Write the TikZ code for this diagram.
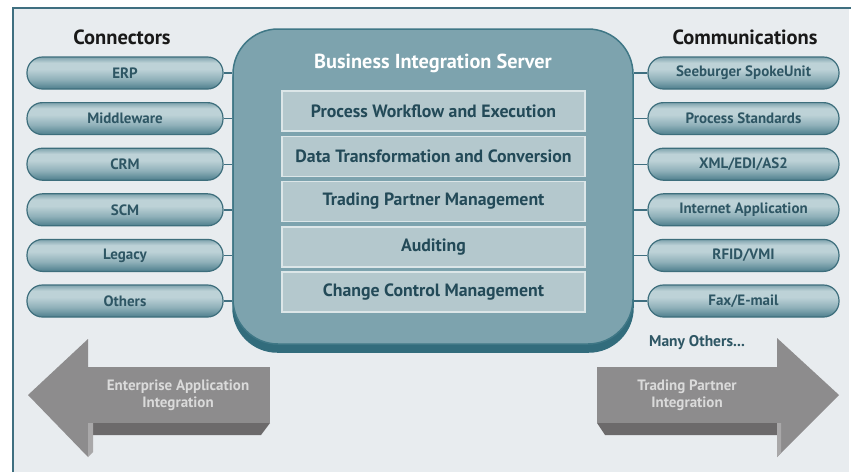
\documentclass[tikz,border=0pt]{standalone}
\usepackage{fontspec}
\setmainfont{PT Sans}
\pgfdeclarelayer{base}
\pgfdeclarelayer{mid}
\pgfsetlayers{base,mid,main}

\definecolor{pagebg}{HTML}{E8ECEF}
\definecolor{frameline}{HTML}{3F6F80}
\definecolor{pillband}{HTML}{7FA3AD}
\definecolor{pilllight}{HTML}{BDD2D7}
\definecolor{pillmid}{HTML}{8FB0B9}
\definecolor{pillbot}{HTML}{4E7F8D}
\definecolor{pilledge}{HTML}{3D6E7C}
\definecolor{pilltext}{HTML}{2E5664}
\definecolor{srvfill}{HTML}{7DA3AE}
\definecolor{srvedge}{HTML}{3F7786}
\definecolor{srvshadow}{HTML}{326C7C}
\definecolor{boxfill}{HTML}{B4C8CD}
\definecolor{boxedge}{HTML}{DCE6E8}
\definecolor{boxtext}{HTML}{234A58}
\definecolor{arrface}{HTML}{8D8C8D}
\definecolor{arrdark}{HTML}{6C6A6B}
\definecolor{arrlight}{HTML}{A9A8A9}
\definecolor{arrtext}{HTML}{DADADA}

% tube-like vertical shading for the pills (path spans 25bp..75bp)
\pgfdeclareverticalshading{tube}{100bp}{%
  color(0bp)=(pillbot); color(25bp)=(pillbot); color(40bp)=(pillmid);
  color(56bp)=(pilllight); color(66bp)=(pilllight); color(75bp)=(pillband);
  color(100bp)=(pillband)}

\begin{document}
\begin{tikzpicture}[x=1pt,y=-1pt,
  pill/.style={draw=pilledge, line width=1.2pt, rounded corners=15.5pt,
    minimum height=32pt, inner sep=0pt, shading=tube,
    font=\bfseries\fontsize{15}{17}\selectfont, text=pilltext},
  lpill/.style={pill, minimum width=196pt},
  rpill/.style={pill, minimum width=191pt},
  layer/.style={draw=boxedge, line width=1.5pt, fill=boxfill,
    minimum width=303pt, minimum height=40pt, inner sep=0pt,
    font=\bfseries\fontsize{17.8}{20}\selectfont, text=boxtext},
  server/.style={draw=srvedge, line width=1.5pt, fill=srvfill,
    rounded corners=45pt, minimum width=400pt, minimum height=315pt, inner sep=0pt},
  link/.style={draw=frameline, line width=1.4pt},
  heading/.style={font=\bfseries\fontsize{20.5}{23}\selectfont, text=black!90},
  arrlabel/.style={font=\bfseries\fontsize{15}{16.5}\selectfont, text=arrtext, align=center}
]
\useasboundingbox (0,0) rectangle (851,472);

% page panel with its frame on the left and top
\begin{pgfonlayer}{base}
  \fill[pagebg] (13,8) rectangle (849,472);
  \draw[frameline, line width=2pt] (13,472) -- (13,8) -- (851,8);
\end{pgfonlayer}

% central server block with its dark lower rim
\node[server] (server) at (433,186.5) {};
\begin{pgfonlayer}{mid}
  \fill[srvshadow, rounded corners=45pt]
    ([yshift=-8pt]server.north west) rectangle ([yshift=-8pt]server.south east);
\end{pgfonlayer}
\node[font=\bfseries\fontsize{20.3}{23}\selectfont, text=white] (title) at (433,63)
  {Business Integration Server};

\foreach \n/\t [count=\i] in {pwe/Process Workflow and Execution,
    dtc/Data Transformation and Conversion,
    tpm/Trading Partner Management,
    aud/Auditing,
    ccm/Change Control Management}
  \node[layer] (\n) at (433.5,{111+45.25*(\i-1)}) {\t};

% headings
\node[heading] (conn) at (122,37) {Connectors};
\node[heading] (comm) at (745,37) {Communications};

% connector pills on the left
\foreach \n/\t [count=\i] in {erp/ERP, midw/Middleware, crm/CRM, scm/SCM, leg/Legacy, oth/Others}
{
  \node[lpill] (\n) at (125,{73+45.6*(\i-1)}) {\t};
  \draw[link] (\n.east) -- (\n.east -| server.west);
}

% communication pills on the right
\foreach \n/\t [count=\i] in {spoke/{Seeburger SpokeUnit}, pstd/{Process Standards},
    xml/{XML/EDI/AS2}, inet/{Internet Application}, rfid/{RFID/VMI}, fax/{Fax/E-mail}}
{
  \node[rpill] (\n) at (743.5,{73+45.6*(\i-1)}) {\t};
  \draw[link] (\n.west) -- (\n.west -| server.east);
}

\node[font=\bfseries\fontsize{15.5}{18}\selectfont, text=pilltext] (many) at (697,343)
  {Many Others...};

% left block arrow (enterprise application integration)
\fill[arrdark] (92,423) -- (270,423) -- (261,435) -- (92,435) -- cycle;
\fill[arrface] (88,367) -- (270,367) -- (270,423) -- (88,423) -- cycle;
\fill[arrface] (28,395) -- (88,339) -- (88,457) -- cycle;
\fill[arrlight] (88,423) -- (93,423) -- (93,452) -- (88,457) -- cycle;
\node[arrlabel] (eai) at (178,395) {Enterprise Application\\Integration};

% right block arrow (trading partner integration)
\fill[arrdark] (597,423) -- (777,423) -- (777,435) -- (605,435) -- cycle;
\fill[arrface] (597,367) -- (777,367) -- (777,423) -- (597,423) -- cycle;
\fill[arrface] (777,338) -- (839,395) -- (777,457) -- cycle;
\fill[arrlight] (777,423) -- (781,423) -- (781,453) -- (777,457) -- cycle;
\node[arrlabel] (tpi) at (687,395) {Trading Partner\\Integration};

\end{tikzpicture}
\end{document}
